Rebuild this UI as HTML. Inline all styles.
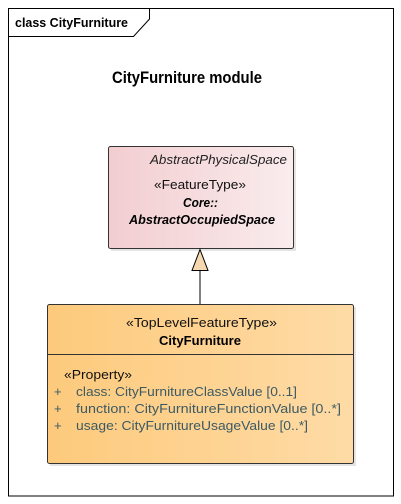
<!DOCTYPE html>
<html><head><meta charset="utf-8"><style>
html,body{margin:0;padding:0;background:#fff;width:401px;height:504px;overflow:hidden}
svg text{font-family:"Liberation Sans",sans-serif}
</style></head><body>
<svg width="401" height="504" viewBox="0 0 401 504" xmlns="http://www.w3.org/2000/svg">
<defs>
<linearGradient id="pk" x1="0" x2="1" y1="0" y2="0"><stop offset="0" stop-color="#f2cdd0"/><stop offset="1" stop-color="#faeced"/></linearGradient>
<linearGradient id="or" x1="0" x2="1" y1="0" y2="0"><stop offset="0" stop-color="#fdca7c"/><stop offset="1" stop-color="#fedba6"/></linearGradient>
</defs>
<rect x="8.5" y="8.5" width="385" height="487.5" fill="#fff" stroke="#000" stroke-width="1"/>
<path d="M8.5 36.5 H133.5 L149.5 19 V8.5" fill="none" stroke="#000" stroke-width="1"/>
<text x="15" y="27" font-size="12.5" font-weight="bold" textLength="113" lengthAdjust="spacingAndGlyphs">class CityFurniture</text>
<text x="112" y="83" font-size="17" font-weight="bold" textLength="150" lengthAdjust="spacingAndGlyphs">CityFurniture module</text>
<rect x="111" y="149" width="185" height="102" fill="#e4e4e4"/>
<rect x="108.5" y="146.5" width="185" height="102" rx="2" fill="url(#pk)" stroke="#333" stroke-width="1"/>
<g font-size="13" lengthAdjust="spacingAndGlyphs">
<text x="150" y="164" font-style="italic" fill="#222" textLength="137" lengthAdjust="spacingAndGlyphs">AbstractPhysicalSpace</text>
<text x="154" y="189" fill="#111" textLength="92" lengthAdjust="spacingAndGlyphs">«FeatureType»</text>
<text x="183" y="207" font-weight="bold" font-style="italic" textLength="35" lengthAdjust="spacingAndGlyphs">Core::</text>
<text x="129" y="224" font-weight="bold" font-style="italic" textLength="146" lengthAdjust="spacingAndGlyphs">AbstractOccupiedSpace</text>
</g>
<line x1="200" y1="270" x2="200" y2="304" stroke="#000"/>
<path d="M200 249.5 L208 270.5 H192 Z" fill="#f6d9b0" stroke="#000" stroke-width="1"/>
<rect x="50" y="307" width="306" height="159" fill="#e4e4e4"/>
<rect x="47.5" y="304.5" width="306" height="159" rx="2" fill="url(#or)" stroke="#333" stroke-width="1"/>
<line x1="47.5" y1="354.5" x2="353.5" y2="354.5" stroke="#333"/>
<g font-size="13">
<text x="126" y="327" fill="#111" textLength="151" lengthAdjust="spacingAndGlyphs">«TopLevelFeatureType»</text>
<text x="159" y="345" font-weight="bold" textLength="82" lengthAdjust="spacingAndGlyphs">CityFurniture</text>
<text x="64" y="379" fill="#111" textLength="68" lengthAdjust="spacingAndGlyphs">«Property»</text>
</g>
<g font-size="13" fill="#3d5a63">
<text x="54" y="396">+</text><text x="76" y="396" textLength="221" lengthAdjust="spacingAndGlyphs">class: CityFurnitureClassValue [0..1]</text>
<text x="54" y="413">+</text><text x="76" y="413" textLength="265" lengthAdjust="spacingAndGlyphs">function: CityFurnitureFunctionValue [0..*]</text>
<text x="54" y="430">+</text><text x="76" y="430" textLength="232" lengthAdjust="spacingAndGlyphs">usage: CityFurnitureUsageValue [0..*]</text>
</g>
</svg>
</body></html>
